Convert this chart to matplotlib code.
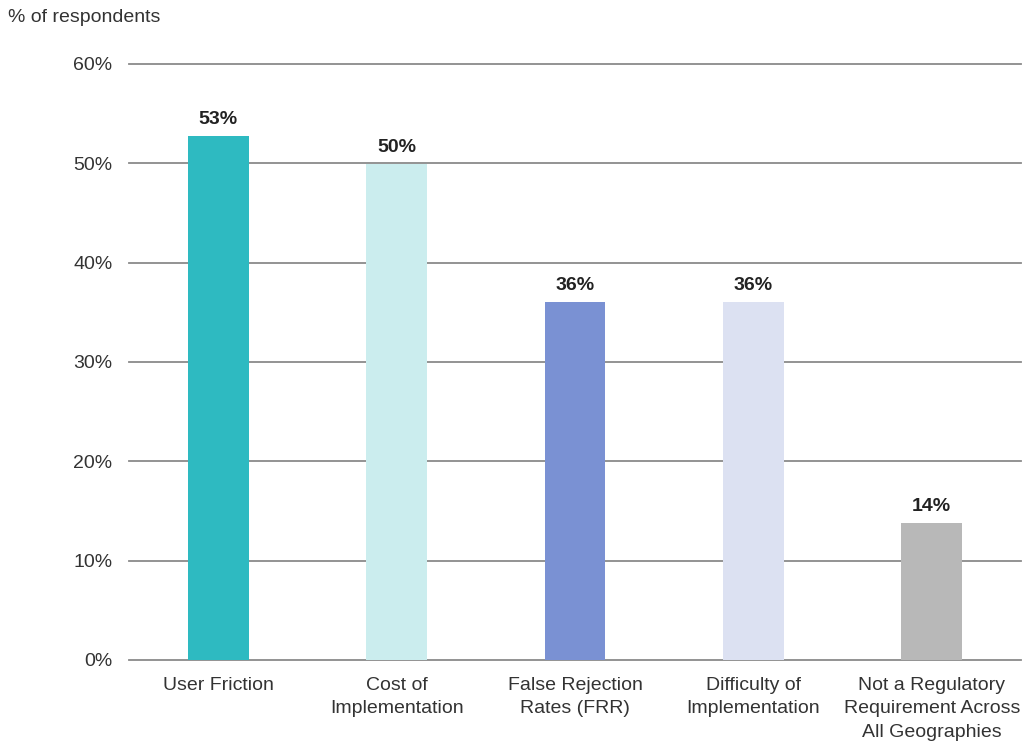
import matplotlib
matplotlib.use("Agg")
import matplotlib.pyplot as plt

categories = ["User Friction", "Cost of\nImplementation", "False Rejection\nRates (FRR)",
              "Difficulty of\nImplementation", "Not a Regulatory\nRequirement Across\nAll Geographies"]
values = [52.8, 49.9, 36.0, 36.0, 13.8]
labels = ["53%", "50%", "36%", "36%", "14%"]
colors = ["#2EBAC1", "#CBEDEE", "#7A91D3", "#DCE1F2", "#B8B8B8"]
yticks = [0, 10, 20, 30, 40, 50, 60]

plt.rcParams['font.family'] = ['Liberation Sans', 'DejaVu Sans']
text_color = "#333333"
fs = 14

fig = plt.figure(figsize=(10.26, 7.42), dpi=100)
ax = fig.add_axes([129/1026, 1 - 660/742, 892/1026, (660-64)/742])

x = range(len(categories))
for yv in yticks:
    ax.axhline(yv, color="#8a8a8a", lw=1.3, zorder=1, clip_on=False)
ax.bar(x, values, width=0.34, color=colors, zorder=2)
for xi, v, lab in zip(x, values, labels):
    ax.text(xi, v + 1.2, lab, ha="center", va="baseline", fontsize=fs,
            fontweight="bold", color="#222222")

ax.set_xlim(-0.5, len(categories) - 0.5)
ax.set_ylim(0, 60)
ax.set_yticks(yticks)
ax.set_yticklabels([f"{v}%" for v in yticks], fontsize=fs, color=text_color)
ax.set_xticks(list(x))
ax.set_xticklabels(categories, fontsize=fs, color=text_color, linespacing=1.52)
ax.tick_params(axis="y", length=0, pad=12)
ax.tick_params(axis="x", length=0, pad=12)
for s in ax.spines.values():
    s.set_visible(False)

fig.text(8/1026, 1 - 17/742, "% of respondents", fontsize=fs, color=text_color,
         ha="left", va="center")

fig.savefig("out.png", dpi=100)
